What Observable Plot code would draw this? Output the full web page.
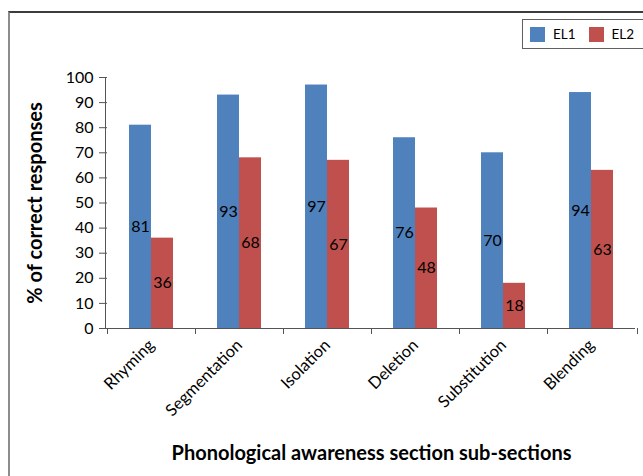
<!DOCTYPE html>
<html><head><meta charset="utf-8">
<script src="https://cdn.jsdelivr.net/npm/d3@7"></script>
<script src="https://cdn.jsdelivr.net/npm/@observablehq/plot@0.6"></script>
<style>
html,body{margin:0;padding:0;background:#fff;}
body{width:643px;height:476px;overflow:hidden;position:relative;font-family:Lato,sans-serif;}
#frame{position:absolute;left:8px;top:11px;width:700px;height:520px;border-top:2px solid #3c3c3c;border-left:2px solid #8c8c8c;box-sizing:border-box;}
#chart{position:absolute;left:0;top:0;}
#legendbox{position:absolute;left:522px;top:19px;width:140px;height:30px;border:1px solid #606060;box-sizing:border-box;background:#fff;display:flex;align-items:center;padding-left:7px;}
#legendbox .lg-swatches{font-family:Lato,sans-serif !important;font-size:13.5px !important;color:#000 !important;min-height:0 !important;margin:0 !important;}
#legendbox .lg-swatch{margin-right:13px !important;}
#legendbox .lg-swatch > svg{margin-right:8px !important;}
g[aria-label="y-axis label"] text, g[aria-label="fx-axis label"] text{font-weight:bold;font-size:20px;}
</style>
</head><body>
<div id="frame"></div>
<div id="chart"></div>
<div id="legendbox"></div>
<script>
const categories = ["Rhyming","Segmentation","Isolation","Deletion","Substitution","Blending"];
const series = ["EL1","EL2"];
const el1Values = [81,93,97,76,70,94];
const el2Values = [36,68,67,48,18,63];
const yTicks = [0,10,20,30,40,50,60,70,80,90,100];
const colors = ["#4F81BD","#C0504D"];
const yLabel = "% of correct responses";
const xLabel = "Phonological awareness section sub-sections";

const data = [];
categories.forEach((c,i)=>{
  data.push({category:c, series:"EL1", value:el1Values[i]});
  data.push({category:c, series:"EL2", value:el2Values[i]});
});

const chart = Plot.plot({
  width:643, height:476,
  marginLeft:105, marginRight:6, marginTop:77, marginBottom:148,
  style:{fontFamily:"Lato, sans-serif", fontSize:"16px", color:"#000", background:"transparent"},
  fx:{domain:categories, padding:0},
  x:{domain:series, axis:null, paddingInner:0, paddingOuter:1},
  y:{domain:[0,100]},
  color:{domain:series, range:colors},
  marks:[
    Plot.barY(data,{fx:"category", x:"series", y:"value", fill:"series"}),
    Plot.text(data,{fx:"category", x:"series", y:d=>d.value/2, text:d=>String(d.value), fontSize:16, fill:"#000"}),
    Plot.ruleY([0],{stroke:"#555", strokeWidth:1}),
    Plot.axisY({ticks:yTicks, tickSize:8, tickPadding:6, fontSize:16, stroke:"#555", fill:"#000", label:yLabel, labelAnchor:"center", labelArrow:"none", labelOffset:80}),
    Plot.axisFx({anchor:"bottom", tickSize:0, tickRotate:-45, tickPadding:14, fontSize:16.5, fill:"#000", label:xLabel, labelAnchor:"center", labelArrow:"none", labelOffset:131})
  ]
});
document.getElementById("chart").appendChild(chart);

// axis line and between-category ticks, positioned from the plot's own scales
const fx = chart.scale("fx"), y = chart.scale("y");
const svg = d3.select(chart);
const y0 = y.apply(0), y1 = y.apply(100);
const x0 = fx.range[0], xEnd = fx.range[1];
const g = svg.append("g").attr("stroke","#555").attr("stroke-width",1);
g.append("line").attr("x1",x0+0.5).attr("x2",x0+0.5).attr("y1",y1).attr("y2",y0);
const edges = categories.map(c=>fx.apply(c)).concat([xEnd]);
edges.forEach(x=>{
  g.append("line").attr("x1",x+0.5).attr("x2",x+0.5).attr("y1",y0).attr("y2",y0+6);
});

const lg = chart.legend("color",{swatchSize:15, className:"lg"});
document.getElementById("legendbox").appendChild(lg);
</script>
</body></html>
